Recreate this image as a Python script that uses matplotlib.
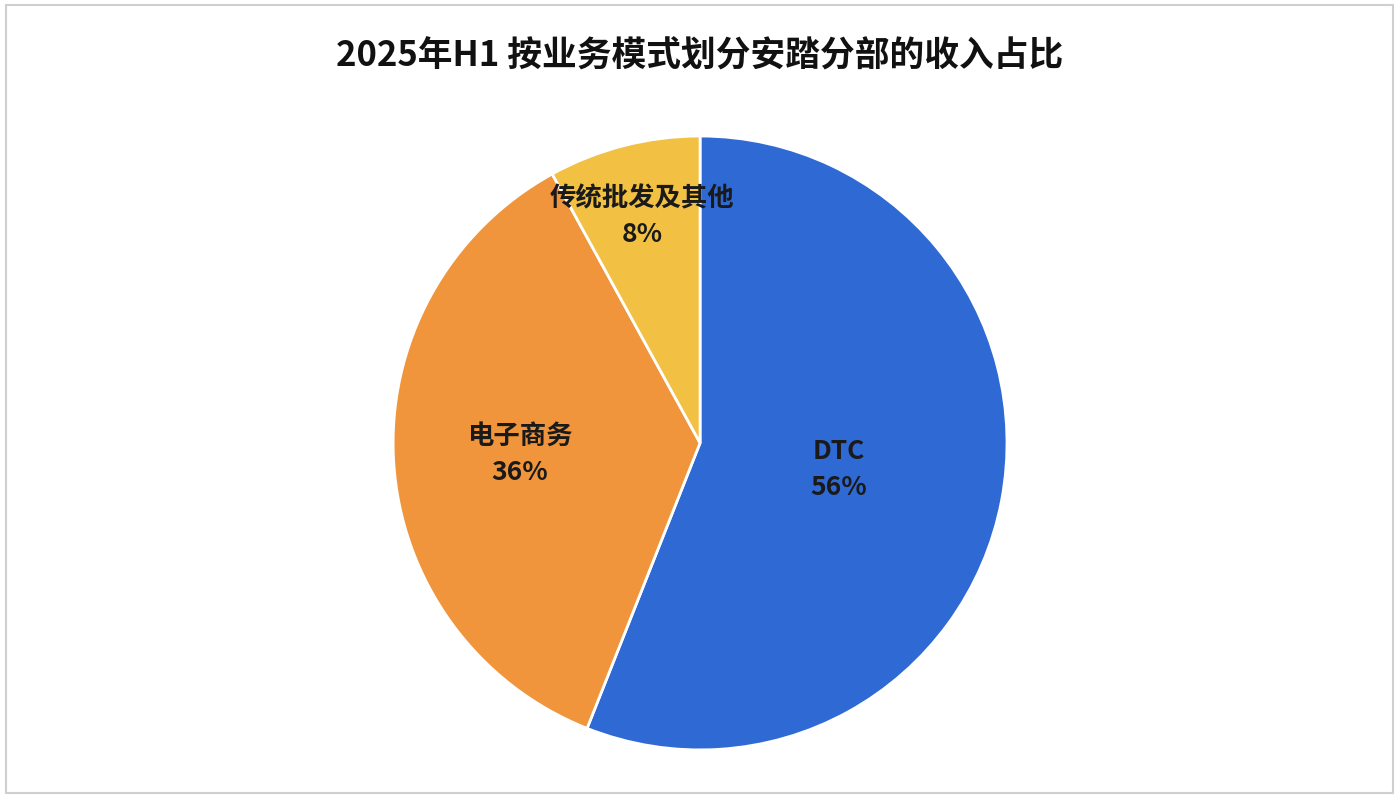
import numpy as np
import matplotlib.pyplot as plt
from matplotlib.patches import Rectangle

plt.rcParams['font.family'] = ['Noto Sans CJK SC', 'DejaVu Sans']

categories = ['DTC', '电子商务', '传统批发及其他']
shares = [56, 36, 8]
colors = ['#2F69D4', '#F0953B', '#F2C143']
label_radius = [0.46, 0.59, 0.76]

fig = plt.figure(figsize=(13.99, 7.98), dpi=100)
fig.patches.append(Rectangle((0.004, 0.006), 0.992, 0.988, transform=fig.transFigure,
                             fill=False, edgecolor='#CFCFCF', linewidth=1.5))
fig.text(0.5, 0.93, '2025年H1 按业务模式划分安踏分部的收入占比', ha='center', va='center',
         fontsize=25, fontweight='bold', color='#111111')

ax = fig.add_axes([0.2788, 0.0564, 0.4432, 0.777])
wedges, _ = ax.pie(shares, colors=colors, startangle=90, counterclock=False,
                   wedgeprops=dict(edgecolor='white', linewidth=2))
ax.set_xlim(-1.01, 1.01)
ax.set_ylim(-1.01, 1.01)
ax.set_aspect('equal')

for w, name, val, r in zip(wedges, categories, shares, label_radius):
    ang = np.deg2rad((w.theta1 + w.theta2) / 2)
    x, y = r * np.cos(ang), r * np.sin(ang)
    ax.text(x, y, f'{name}\n{val}%', ha='center', va='center', fontsize=19,
            fontweight='bold', color='#1A1A1A', linespacing=1.4)

fig.savefig('out.png', dpi=100)
